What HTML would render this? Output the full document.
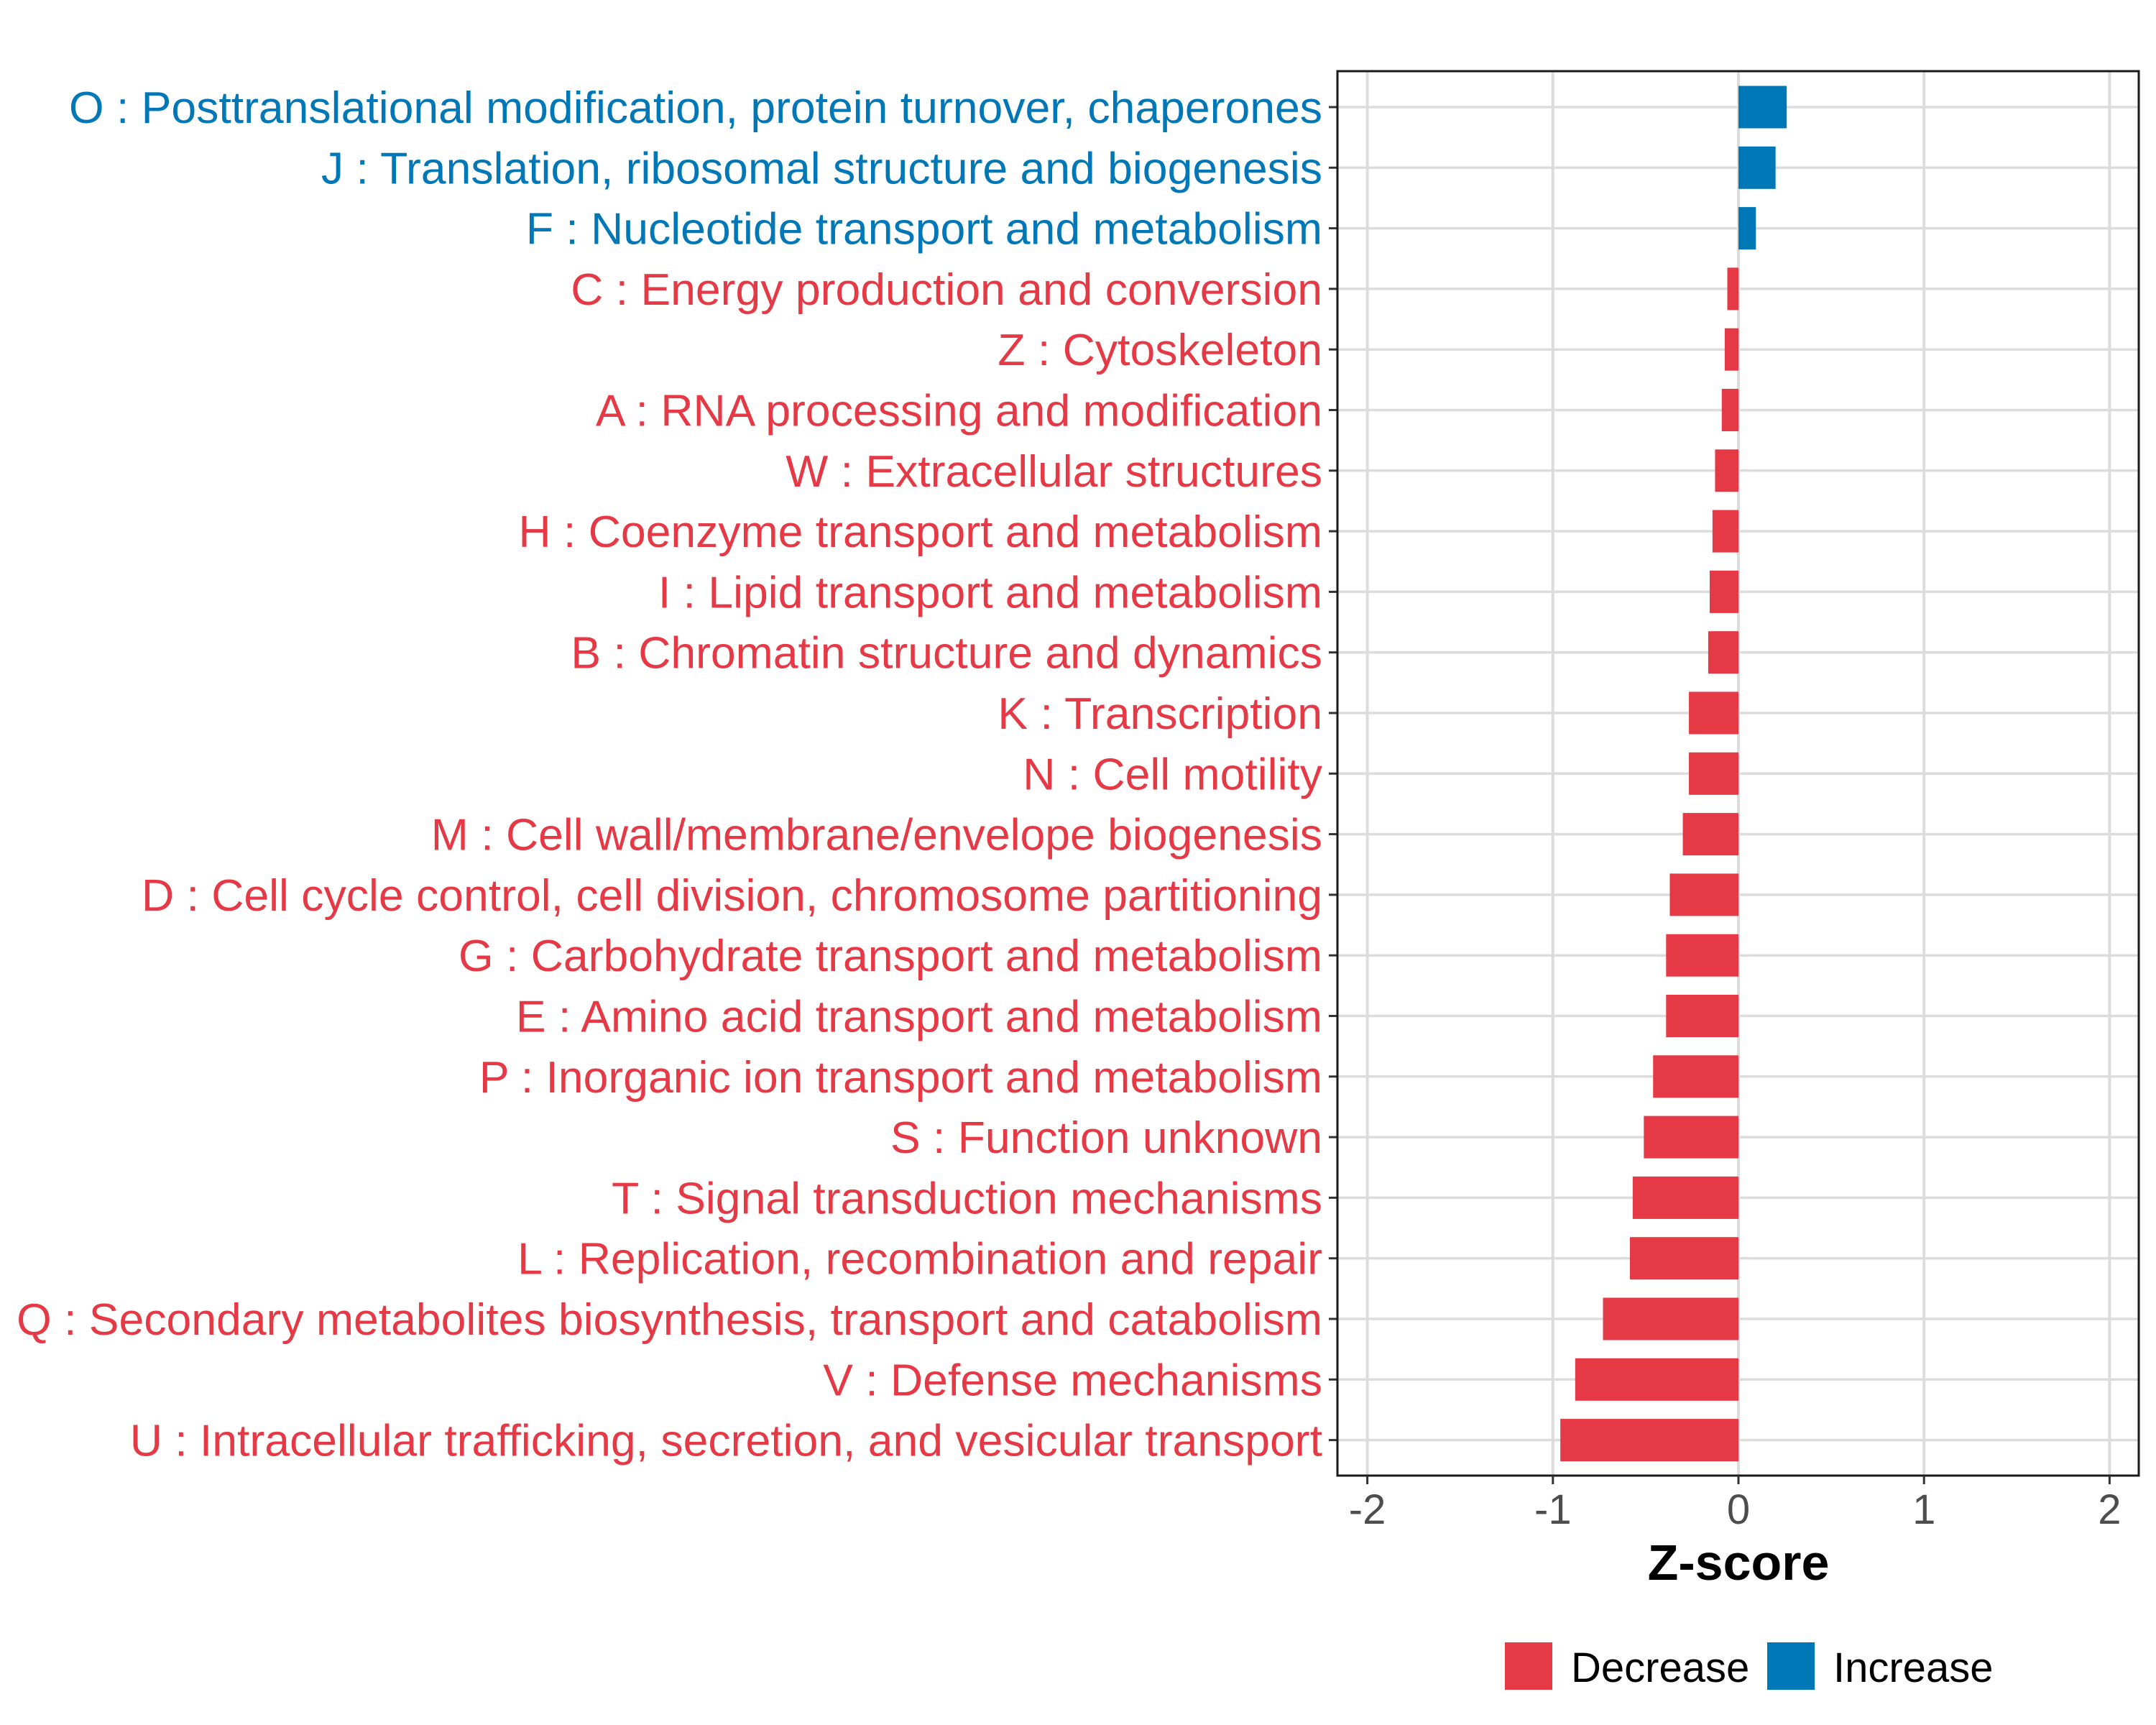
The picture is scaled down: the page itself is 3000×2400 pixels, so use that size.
<!DOCTYPE html>
<html><head><meta charset="utf-8"><style>
html,body{margin:0;padding:0;background:#fff;}
svg{display:block;font-family:"Liberation Sans",Arial,sans-serif;}
</style></head><body>
<svg id="chart" width="3000" height="2400" viewBox="0 0 3000 2400" xmlns="http://www.w3.org/2000/svg"></svg>
<script>
const categories = [
"O : Posttranslational modification, protein turnover, chaperones",
"J : Translation, ribosomal structure and biogenesis",
"F : Nucleotide transport and metabolism",
"C : Energy production and conversion",
"Z : Cytoskeleton",
"A : RNA processing and modification",
"W : Extracellular structures",
"H : Coenzyme transport and metabolism",
"I : Lipid transport and metabolism",
"B : Chromatin structure and dynamics",
"K : Transcription",
"N : Cell motility",
"M : Cell wall/membrane/envelope biogenesis",
"D : Cell cycle control, cell division, chromosome partitioning",
"G : Carbohydrate transport and metabolism",
"E : Amino acid transport and metabolism",
"P : Inorganic ion transport and metabolism",
"S : Function unknown",
"T : Signal transduction mechanisms",
"L : Replication, recombination and repair",
"Q : Secondary metabolites biosynthesis, transport and catabolism",
"V : Defense mechanisms",
"U : Intracellular trafficking, secretion, and vesicular transport"];
const zscores = [0.26,0.20,0.094,-0.06,-0.074,-0.09,-0.126,-0.14,-0.155,-0.163,-0.267,-0.267,-0.30,-0.37,-0.39,-0.39,-0.46,-0.51,-0.57,-0.585,-0.73,-0.88,-0.96];
const xTicks = [-2,-1,0,1,2];
const xTickLabels = ["-2","-1","0","1","2"];
const legendLabels = ["Decrease","Increase"];

const NS="http://www.w3.org/2000/svg";
const svg=document.getElementById('chart');
const P={l:1861,r:2976,t:99,b:2053};
const X=v=>2419+v*258.2;
const Y=i=>149+i*84.3;
const RED="#E63946", BLUE="#0077B6";
function mk(tag,attrs,parent){const e=document.createElementNS(NS,tag);for(const k in attrs)e.setAttribute(k,attrs[k]);(parent||svg).appendChild(e);return e;}

const grid=mk('g',{});


xTicks.forEach(t=>{const l=mk('line',{x1:X(t),x2:X(t),y1:P.t,y2:P.b,stroke:'#dcdcdc','stroke-width':4},grid);

});
categories.forEach((c,i)=>{const l=mk('line',{x1:P.l,x2:P.r,y1:Y(i),y2:Y(i),stroke:'#dcdcdc','stroke-width':3.5},grid);

});

const bars=mk('g',{});


const bh=0.7*84.3;
categories.forEach((c,i)=>{const v=zscores[i];const col=v>=0?BLUE:RED;
const r=mk('rect',{x:Math.min(X(0),X(v)),y:Y(i)-bh/2,width:Math.abs(X(v)-X(0)),height:bh,fill:col},bars);


const tk=mk('line',{x1:P.l-12,x2:P.l,y1:Y(i),y2:Y(i),stroke:'#333','stroke-width':3});


const t=mk('text',{x:1840,y:Y(i)+22,'text-anchor':'end','font-size':62.5,fill:col});
t.textContent=c;

});

const border=mk('rect',{x:P.l,y:P.t,width:P.r-P.l,height:P.b-P.t,fill:'none',stroke:'#1a1a1a','stroke-width':3});



xTicks.forEach((t,i)=>{const l=mk('line',{x1:X(t),x2:X(t),y1:P.b,y2:P.b+12,stroke:'#333','stroke-width':3});


const tx=mk('text',{x:X(t),y:2120,'text-anchor':'middle','font-size':58,fill:'#4d4d4d'});
tx.textContent=xTickLabels[i];

});

const xt=mk('text',{x:X(0),y:2198,'text-anchor':'middle','font-size':70,'font-weight':'bold',fill:'#000'});
xt.textContent='Z-score';



const legendX=[2094,2459];
const legendCols=[RED,BLUE];
legendLabels.forEach((lab,i)=>{
const k=mk('rect',{x:legendX[i],y:2285,width:66,height:66,fill:legendCols[i]});


const t=mk('text',{x:legendX[i]+92,y:2340,'font-size':58,fill:'#000'});
t.textContent=lab;

});
</script>
</body></html>
